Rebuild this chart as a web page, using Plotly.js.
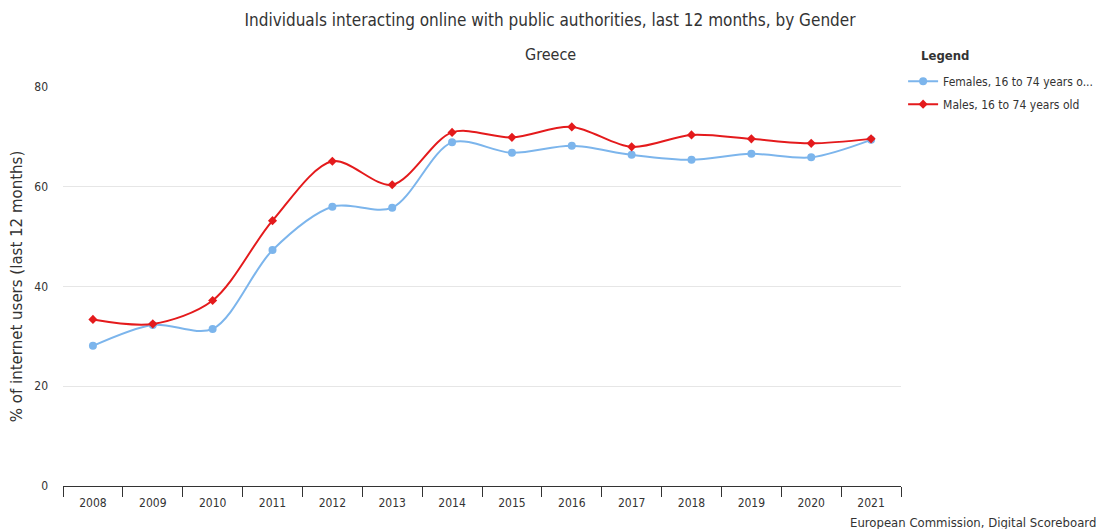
<!DOCTYPE html>
<html>
<head>
<meta charset="utf-8">
<script src="https://cdn.plot.ly/plotly-3.0.1.min.js"></script>
<style>html,body{margin:0;padding:0;background:#fff;}#chart{width:1100px;height:529px;}</style>
</head>
<body>
<div id="chart"></div>
<script>
const years = ['2008','2009','2010','2011','2012','2013','2014','2015','2016','2017','2018','2019','2020','2021'];
const females = [28.1, 32.3, 31.5, 47.3, 56.0, 55.8, 68.9, 66.8, 68.2, 66.4, 65.4, 66.6, 65.9, 69.4];
const males = [33.4, 32.5, 37.2, 53.2, 65.1, 60.4, 70.9, 69.9, 72.0, 68.0, 70.4, 69.6, 68.7, 69.6];
const femalesName = 'Females, 16 to 74 years o...';
const malesName = 'Males, 16 to 74 years old';
const yTicks = [0, 20, 40, 60, 80];

const narrow = '"Liberation Sans Narrow", "DejaVu Sans Condensed", Arial, sans-serif';

const traces = [
  {x: years, y: females, name: femalesName, type: 'scatter', mode: 'lines+markers', legendgroup: 'f',
   line: {color: '#7cb5ec', width: 2, shape: 'spline', smoothing: 0.9},
   marker: {symbol: 'circle', size: 8, color: '#7cb5ec'}},
  {x: years, y: males, name: malesName, type: 'scatter', mode: 'lines+markers', legendgroup: 'm',
   line: {color: '#e41a1c', width: 2, shape: 'spline', smoothing: 0.9},
   marker: {symbol: 'diamond', size: 7, color: '#e41a1c'}}
];

const layout = {
  width: 1100, height: 529,
  margin: {l: 63, r: 199, t: 87, b: 43, autoexpand: false},
  paper_bgcolor: '#fff', plot_bgcolor: '#fff',
  font: {family: narrow, color: '#333', size: 12},
  title: {text: 'Individuals interacting online with public authorities, last 12 months, by Gender',
          x: 0.5, xref: 'container', xanchor: 'center', y: 0.962, yanchor: 'middle',
          font: {family: narrow, size: 17, color: '#333'}},
  showlegend: true,
  legend: {xref: 'container', yref: 'container', x: 0.821, xanchor: 'left', y: 0.874, yanchor: 'top',
           font: {family: narrow, size: 12, color: '#333'}, tracegroupgap: 4, itemwidth: 30},
  xaxis: {type: 'category', range: [-0.5, 13.5], showgrid: false, zeroline: false,
          showline: true, linecolor: '#333', linewidth: 1,
          ticks: 'outside', tickson: 'boundaries', ticklen: 10, tickcolor: '#333', tickwidth: 1,
          ticklabelstandoff: 6,
          tickfont: {family: narrow, size: 12, color: '#333'}, fixedrange: true},
  yaxis: {range: [0, 80], tickvals: yTicks, ticktext: yTicks.map(String), showgrid: true, gridcolor: '#e6e6e6',
          zeroline: false, showline: false, ticks: '', ticklabelstandoff: 14,
          tickfont: {family: narrow, size: 12, color: '#333'},
          title: {text: '% of internet users (last 12 months)', standoff: 8,
                  font: {family: '"DejaVu Sans", "Open Sans", sans-serif', size: 15, color: '#333'}}},
  annotations: [
    {text: 'Greece', xref: 'paper', yref: 'paper', x: (550 - 63) / 838, y: 1.0, xanchor: 'center', yanchor: 'bottom',
     yshift: 21, showarrow: false, font: {family: narrow, size: 16, color: '#333'}},
    {text: '<b>Legend</b>', xref: 'paper', yref: 'paper', x: 1.022, y: 1.0, xanchor: 'left', yanchor: 'middle',
     yshift: 32, showarrow: false, font: {family: narrow, size: 13, color: '#333'}},
    {text: 'European Commission, Digital Scoreboard', xref: 'paper', yref: 'paper', x: 1.2345, y: 0,
     xanchor: 'right', yanchor: 'top', yshift: -27, showarrow: false,
     font: {family: narrow, size: 13, color: '#333'}}
  ]
};

Plotly.newPlot('chart', traces, layout, {displayModeBar: false, responsive: false});
</script>
</body>
</html>
